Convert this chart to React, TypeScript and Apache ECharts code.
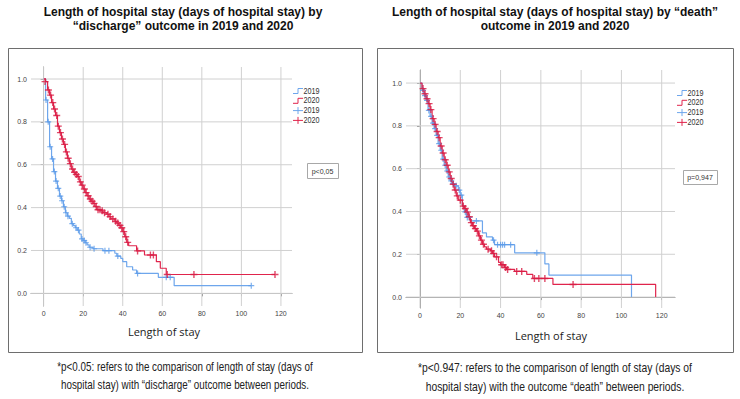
import React, { useEffect, useRef } from "react";
import * as echarts from "echarts";

// Axis ticks
const X_TICKS = [0, 20, 40, 60, 80, 100, 120];
const Y_TICKS = [0, 0.2, 0.4, 0.6, 0.8, 1.0];

// Kaplan-Meier estimates, "discharge" outcome
const DIS_2019_T = [0, 1, 2, 3, 4, 5, 6, 7, 8, 9, 10, 11, 12, 13, 14, 15, 16, 17, 18, 19, 20, 21, 22, 23, 25, 30, 36, 37, 39, 40, 42, 45, 47, 58, 66, 105];
const DIS_2019_S = [1.0, 0.902, 0.8, 0.684, 0.627, 0.568, 0.524, 0.49, 0.454, 0.432, 0.404, 0.376, 0.36, 0.35, 0.325, 0.316, 0.306, 0.295, 0.277, 0.254, 0.246, 0.236, 0.226, 0.215, 0.208, 0.199, 0.187, 0.174, 0.163, 0.148, 0.124, 0.109, 0.093, 0.075, 0.036, 0.036];
const DIS_2019_CENSORED = [
  [1.2, 0.902], [2.3, 0.8], [3.3, 0.684], [4.5, 0.627], [5.4, 0.568], [6.3, 0.524], [7.4, 0.49], [8.4, 0.454],
  [9.3, 0.432], [10.4, 0.404], [11.3, 0.376], [12.3, 0.36], [14.5, 0.325], [16.4, 0.306], [17.6, 0.295],
  [19.4, 0.254], [20.5, 0.246], [21.4, 0.236], [23.5, 0.215], [25.5, 0.208], [31, 0.199], [33, 0.199],
  [37.5, 0.174], [47.5, 0.093], [62, 0.075], [64, 0.075], [105, 0.036],
];

const DIS_2020_T = [0, 1, 2, 3, 4, 5, 6, 7, 8, 9, 10, 11, 12, 13, 14, 15, 16, 17, 18, 19, 20, 21, 22, 23, 24, 25, 26, 27, 29, 30, 32, 33, 34, 36, 37, 38, 39, 40, 41, 42, 43, 47, 51, 57, 59, 62, 117];
const DIS_2020_S = [1.0, 0.988, 0.949, 0.925, 0.89, 0.86, 0.83, 0.78, 0.75, 0.72, 0.695, 0.66, 0.63, 0.605, 0.58, 0.565, 0.555, 0.545, 0.52, 0.505, 0.487, 0.47, 0.455, 0.44, 0.43, 0.42, 0.405, 0.39, 0.385, 0.376, 0.369, 0.358, 0.347, 0.336, 0.328, 0.317, 0.306, 0.288, 0.264, 0.238, 0.222, 0.198, 0.179, 0.148, 0.117, 0.088, 0.088];
const DIS_2020_CENSORED = [
  [0.7, 0.988], [2.4, 0.949], [3.5, 0.925], [4.6, 0.89], [5.5, 0.86], [6.6, 0.83], [7.4, 0.78], [8.5, 0.75],
  [9.5, 0.72], [10.6, 0.695], [11.5, 0.66], [12.4, 0.63], [13.5, 0.605], [14.6, 0.58], [15.6, 0.565],
  [16.5, 0.555], [17.5, 0.545], [18.6, 0.52], [19.5, 0.505], [20.6, 0.487], [21.5, 0.47], [22.5, 0.455],
  [23.6, 0.44], [24.5, 0.43], [25.5, 0.42], [26.6, 0.405], [27.5, 0.39], [28.5, 0.39], [29.6, 0.385],
  [30.8, 0.376], [32.5, 0.369], [33.6, 0.358], [35, 0.347], [36.4, 0.336], [37.5, 0.328], [38.6, 0.317],
  [39.5, 0.306], [40.5, 0.288], [41.5, 0.264], [42.5, 0.238], [47.5, 0.198], [54, 0.179], [55.5, 0.179],
  [62.5, 0.088], [76, 0.088], [117, 0.088],
];

// Kaplan-Meier estimates, "death" outcome
const DEATH_2019_T = [0, 1, 2, 3, 4, 5, 6, 7, 8, 9, 10, 11, 12, 13, 14, 15, 16, 17, 19, 20, 21, 22, 23, 25, 31, 33, 36, 37, 47, 62, 64, 105];
const DEATH_2019_S = [1.0, 0.966, 0.941, 0.919, 0.872, 0.844, 0.813, 0.787, 0.756, 0.717, 0.686, 0.645, 0.616, 0.589, 0.561, 0.543, 0.53, 0.52, 0.5, 0.476, 0.428, 0.398, 0.372, 0.356, 0.3, 0.281, 0.266, 0.245, 0.207, 0.155, 0.103, 0];
const DEATH_2019_CENSORED = [
  [1.5, 0.966], [2.5, 0.941], [3.5, 0.919], [4.4, 0.872], [5.5, 0.844], [6.5, 0.813], [7.5, 0.787],
  [8.5, 0.756], [9.5, 0.717], [10.5, 0.686], [11.5, 0.645], [12.5, 0.616], [13.5, 0.589], [14.5, 0.561],
  [15.5, 0.543], [16.5, 0.53], [18, 0.52], [19.5, 0.5], [20.5, 0.476], [22.5, 0.398], [23.5, 0.372],
  [24.5, 0.372], [28, 0.356], [36.5, 0.266], [38.5, 0.245], [40, 0.245], [41, 0.245], [42, 0.245],
  [45, 0.245], [58, 0.207],
];

const DEATH_2020_T = [0, 1, 2, 3, 4, 5, 6, 7, 8, 9, 10, 11, 12, 13, 14, 15, 16, 17, 18, 19, 21, 22, 23, 24, 25, 26, 27, 28, 29, 30, 31, 32, 33, 35, 36, 37, 39, 40, 42, 43, 47, 53, 56, 66, 117];
const DEATH_2020_S = [1.0, 0.974, 0.95, 0.927, 0.904, 0.876, 0.834, 0.807, 0.774, 0.745, 0.706, 0.673, 0.642, 0.616, 0.585, 0.554, 0.527, 0.5, 0.473, 0.453, 0.425, 0.414, 0.397, 0.375, 0.348, 0.333, 0.32, 0.308, 0.286, 0.266, 0.247, 0.235, 0.224, 0.216, 0.204, 0.188, 0.162, 0.151, 0.138, 0.129, 0.12, 0.106, 0.087, 0.059, 0];
const DEATH_2020_CENSORED = [
  [1.5, 0.974], [2.5, 0.95], [3.5, 0.927], [4.5, 0.904], [5.4, 0.876], [6.5, 0.834], [7.5, 0.807],
  [8.5, 0.774], [9.5, 0.745], [10.5, 0.706], [11.5, 0.673], [12.5, 0.642], [13.5, 0.616], [14.5, 0.585],
  [15.5, 0.554], [16.5, 0.527], [17.5, 0.5], [18.5, 0.473], [20, 0.453], [21.5, 0.425], [22.5, 0.414],
  [23.5, 0.397], [24.5, 0.375], [25.5, 0.348], [26.5, 0.333], [27.5, 0.32], [28.5, 0.308], [29.5, 0.286],
  [30.5, 0.266], [31.5, 0.247], [33.8, 0.224], [35.5, 0.216], [36.5, 0.204], [38, 0.188], [40.5, 0.151],
  [41.2, 0.151], [42.5, 0.138], [43.5, 0.129], [48, 0.12], [50.5, 0.12], [56.8, 0.087], [59, 0.087],
  [62, 0.087], [76, 0.059],
];

const YEARS = ["2019", "2020"];
const P_LABELS = ["p<0,05", "p=0,947"];
const TITLES = [
  ["Length of hospital stay (days of hospital stay) by", "\u201cdischarge\u201d outcome in 2019 and 2020"],
  ["Length of hospital stay (days of hospital stay) by \u201cdeath\u201d", "outcome in 2019 and 2020"],
];
const CAPTIONS = [
  ["*p<0.05: refers to the comparison of length of stay (days of", "hospital stay) with \u201cdischarge\u201d outcome between periods."],
  ["*p<0.947: refers to the comparison of length of stay (days of", "hospital stay) with the outcome \u201cdeath\u201d between periods."],
];
const X_NAME = "Length of stay";

const BLUE = "#6ea6ec";
const RED = "#e0244c";
const PLUS = "path://M4,0L6,0L6,4L10,4L10,6L6,6L6,10L4,10L4,6L0,6L0,4L4,4Z";

const zip = (t: number[], s: number[]) => t.map((v, i) => [v, s[i]]);

type Panel = {
  grid: { left: number; top: number; width: number; height: number };
  x: [number, number];
  y: [number, number];
  curves: { t: number[]; s: number[]; c: number[][] }[];
};

const PANELS: Panel[] = [
  {
    grid: { left: 31, top: 67, width: 261, height: 239 },
    x: [-6.4, 125.6],
    y: [-0.059, 1.056],
    curves: [
      { t: DIS_2019_T, s: DIS_2019_S, c: DIS_2019_CENSORED },
      { t: DIS_2020_T, s: DIS_2020_S, c: DIS_2020_CENSORED },
    ],
  },
  {
    grid: { left: 406, top: 70, width: 269, height: 238 },
    x: [-6.95, 126.6],
    y: [-0.051, 1.061],
    curves: [
      { t: DEATH_2019_T, s: DEATH_2019_S, c: DEATH_2019_CENSORED },
      { t: DEATH_2020_T, s: DEATH_2020_S, c: DEATH_2020_CENSORED },
    ],
  },
];

const GRID_LINE_DATA = [...X_TICKS.map((v) => [0, v]), ...Y_TICKS.map((v) => [1, v])];

function buildOption() {
  const grids: any[] = [];
  const xAxes: any[] = [];
  const yAxes: any[] = [];
  const series: any[] = [];
  const graphics: any[] = [];

  const axisCommon = {
    axisLine: { show: true, lineStyle: { color: "#8e8e8e", width: 1 } },
    splitLine: { show: false },
  };

  PANELS.forEach((p, i) => {
    grids.push({ ...p.grid, containLabel: false });
    xAxes.push({
      type: "value",
      gridIndex: i,
      min: p.x[0],
      max: p.x[1],
      ...axisCommon,
      axisTick: { show: true, length: 3, customValues: X_TICKS, lineStyle: { color: "#8e8e8e" } },
      axisLabel: {
        customValues: X_TICKS,
        fontFamily: "Liberation Sans, Arial",
        fontSize: 7,
        color: "#444",
        margin: 4,
      },
    });
    yAxes.push({
      type: "value",
      gridIndex: i,
      min: p.y[0],
      max: p.y[1],
      ...axisCommon,
      axisTick: { show: true, length: 3, customValues: Y_TICKS, lineStyle: { color: "#8e8e8e" } },
      axisLabel: {
        customValues: Y_TICKS,
        formatter: (v: number) => v.toFixed(1),
        fontFamily: "Liberation Sans, Arial",
        fontSize: 7,
        color: "#444",
        margin: 4,
      },
    });

    // light reference grid at each tick
    series.push({
      type: "custom",
      xAxisIndex: i,
      yAxisIndex: i,
      z: 1,
      silent: true,
      clip: false,
      data: GRID_LINE_DATA,
      renderItem: (_params: any, api: any) => {
        const kind = api.value(0);
        const v = api.value(1);
        const a = kind === 0 ? api.coord([v, p.y[0]]) : api.coord([p.x[0], v]);
        const b = kind === 0 ? api.coord([v, p.y[1]]) : api.coord([p.x[1], v]);
        return {
          type: "line",
          shape: { x1: a[0], y1: a[1], x2: b[0], y2: b[1] },
          style: { stroke: "#d0d0d0", lineWidth: 1 },
        };
      },
    });

    p.curves.forEach((c, k) => {
      const color = k === 0 ? BLUE : RED;
      series.push({
        type: "line",
        name: YEARS[k],
        xAxisIndex: i,
        yAxisIndex: i,
        step: "end",
        z: 3,
        showSymbol: false,
        symbol: "none",
        lineStyle: { color, width: 1.2 },
        data: zip(c.t, c.s),
      });
      series.push({
        type: "scatter",
        name: YEARS[k],
        xAxisIndex: i,
        yAxisIndex: i,
        z: 4,
        symbol: PLUS,
        symbolSize: k === 0 ? 6 : 7,
        itemStyle: { color: k === 0 ? "#5b9be8" : "#d81b43" },
        data: c.c,
      });
    });

    // panel frame
    const frame = i === 0 ? { x: 8, y: 48, w: 354, h: 304 } : { x: 377, y: 48, w: 356, h: 304 };
    graphics.push({
      type: "rect",
      shape: { x: frame.x + 0.5, y: frame.y + 0.5, width: frame.w, height: frame.h },
      style: { fill: "none", stroke: "#6e6e6e", lineWidth: 1 },
      z: 0,
    });

    // titles
    const cx = i === 0 ? 183 : 555;
    TITLES[i].forEach((line, j) => {
      graphics.push({
        type: "text",
        x: cx,
        y: 12 + j * 13.5,
        style: {
          text: line,
          align: "center",
          verticalAlign: "middle",
          font: "bold 12px 'Liberation Sans', Arial, sans-serif",
          fill: "#111",
        },
      });
    });

    // captions (condensed sans)
    const capX = i === 0 ? 185 : 555;
    const capY = i === 0 ? [367, 385] : [368, 387];
    CAPTIONS[i].forEach((line, j) => {
      graphics.push({
        type: "text",
        x: capX,
        y: capY[j],
        scaleX: i === 0 ? 0.8 : 0.84,
        style: {
          text: line,
          align: "center",
          verticalAlign: "middle",
          font: "12.3px 'Liberation Sans', Arial, sans-serif",
          fill: "#222",
        },
      });
    });

    // axis title
    graphics.push({
      type: "text",
      x: i === 0 ? 164 : 551,
      y: i === 0 ? 331 : 335,
      style: {
        text: X_NAME,
        align: "center",
        verticalAlign: "middle",
        font: "11px 'Open Sans', 'Liberation Sans', sans-serif",
        fill: "#222",
      },
    });

    // legend
    const lx = i === 0 ? 293 : 677;
    const ly0 = i === 0 ? 91 : 93;
    const legendRows = [
      { kind: "step", color: BLUE, label: YEARS[0] },
      { kind: "step", color: RED, label: YEARS[1] },
      { kind: "plus", color: BLUE, label: YEARS[0] },
      { kind: "plus", color: RED, label: YEARS[1] },
    ];
    legendRows.forEach((row, j) => {
      const y = ly0 + j * 9.8;
      if (row.kind === "step") {
        graphics.push({
          type: "polyline",
          shape: { points: [[lx, y + 2.5], [lx + 5, y + 2.5], [lx + 5, y - 2.5], [lx + 10, y - 2.5]] },
          style: { stroke: row.color, lineWidth: 1, fill: "none" },
        });
      } else {
        graphics.push({
          type: "line",
          shape: { x1: lx, y1: y, x2: lx + 10, y2: y },
          style: { stroke: row.color, lineWidth: 1 },
        });
        graphics.push({
          type: "line",
          shape: { x1: lx + 5, y1: y - 3.5, x2: lx + 5, y2: y + 3.5 },
          style: { stroke: row.color, lineWidth: 1 },
        });
      }
      graphics.push({
        type: "text",
        x: lx + 10.5,
        y,
        scaleX: 0.85,
        style: {
          text: row.label,
          align: "left",
          verticalAlign: "middle",
          font: "8.5px 'Liberation Sans', sans-serif",
          fill: "#333",
        },
      });
    });

    // p-value box
    const pb = i === 0 ? { x: 307, y: 163, w: 31, h: 15 } : { x: 683, y: 170, w: 34, h: 14 };
    graphics.push({
      type: "rect",
      shape: { x: pb.x + 0.5, y: pb.y + 0.5, width: pb.w, height: pb.h },
      style: { fill: "#fff", stroke: "#a8a8a8", lineWidth: 1 },
    });
    graphics.push({
      type: "text",
      x: pb.x + pb.w / 2,
      y: pb.y + pb.h / 2 + 0.5,
      scaleX: 0.88,
      style: {
        text: P_LABELS[i],
        align: "center",
        verticalAlign: "middle",
        font: "8px 'Liberation Sans', sans-serif",
        fill: "#333",
      },
    });
  });

  return {
    animation: false,
    backgroundColor: "#ffffff",
    grid: grids,
    xAxis: xAxes,
    yAxis: yAxes,
    series,
    graphic: graphics,
  };
}

export default function App() {
  const ref = useRef<HTMLDivElement>(null);
  useEffect(() => {
    if (!ref.current) return;
    const chart = echarts.init(ref.current, null, { renderer: "svg" });
    chart.setOption(buildOption());
    return () => chart.dispose();
  }, []);
  return (
    <div
      ref={ref}
      style={{ position: "fixed", left: 0, top: 0, width: 740, height: 399, background: "#fff" }}
    />
  );
}
